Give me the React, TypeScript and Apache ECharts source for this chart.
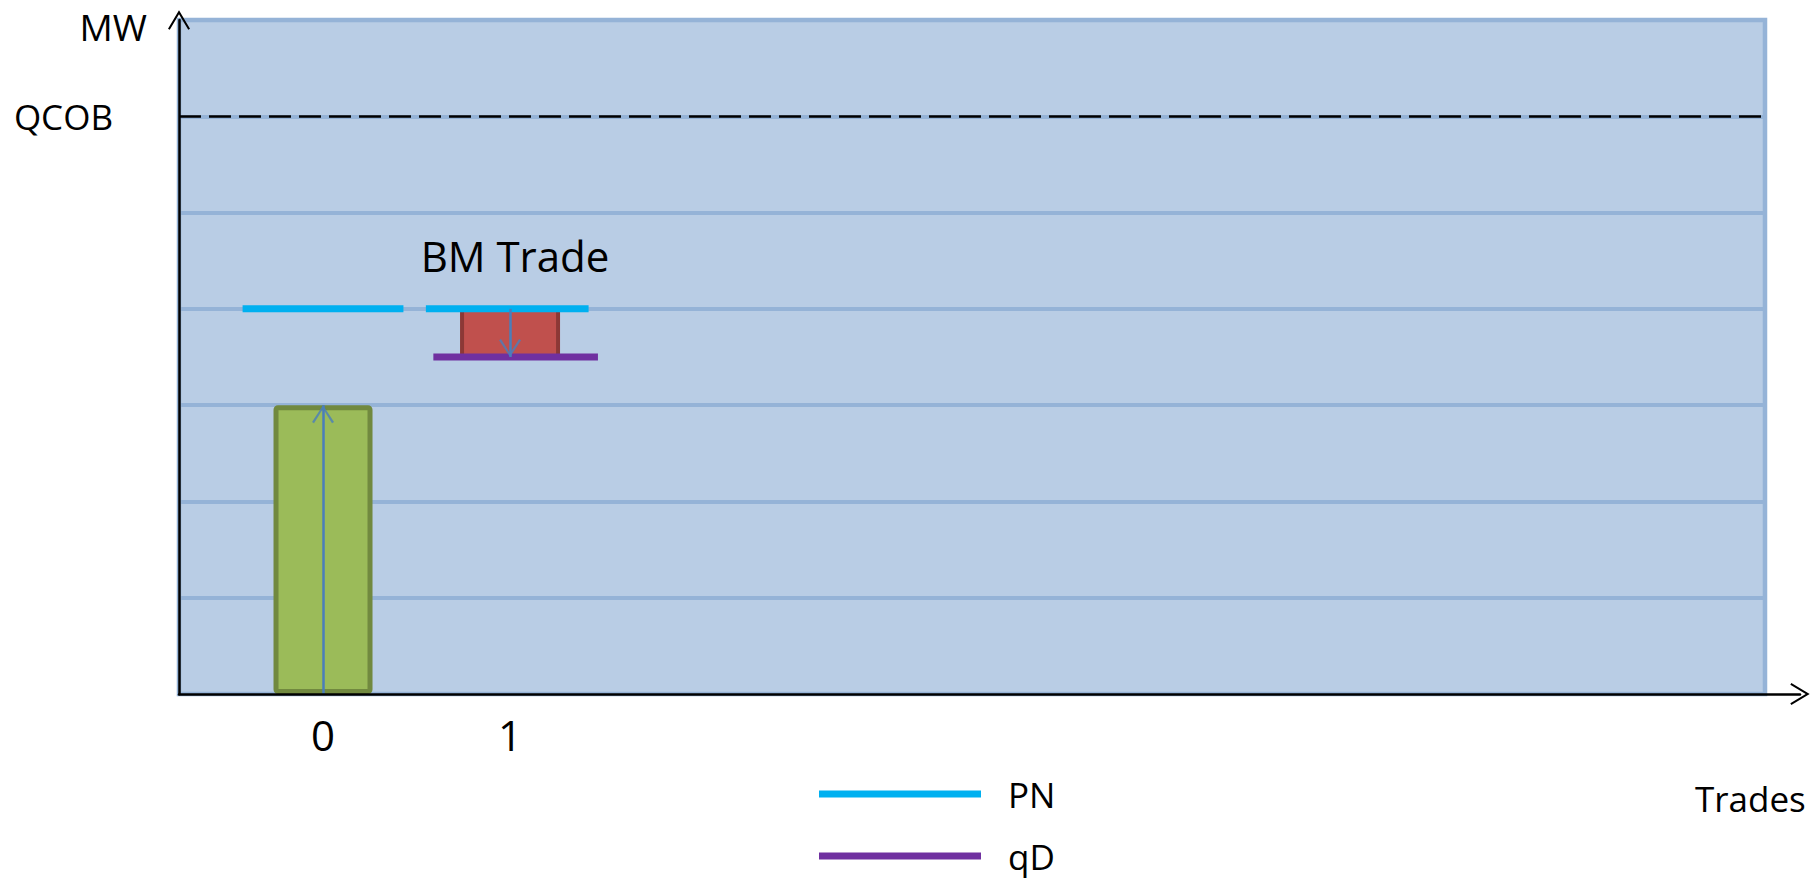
import React, { useEffect, useRef } from "react";
import * as echarts from "echarts";

// ---- data ----
const TRADES = [0, 1];
const INITIAL_POSITION = 3; // green bar at trade 0
const PN_LEVEL = 4;
const PN_SEGMENTS = [
  [-0.43, 0.43],
  [0.55, 1.42],
];
const QD_LEVEL = 3.5;
const QD_SEGMENT = [0.59, 1.47];
const QCOB_LEVEL = 6;
const Y_MIN = 0;
const Y_MAX = 7;
const X_MIN = -0.77;
const X_MAX = 7.71;

const FONT = '"Open Sans", sans-serif';
const ARROW_AXIS = "path://M0,20 L12,0 L24,20 L22.1,21.1 L12,4.3 L1.9,21.1 Z";
const CHEVRON_UP = "path://M0,18 L11,0 L22,18 L20,19.2 L11,3.9 L2,19.2 Z";
const CHEVRON_DOWN = "path://M0,1.2 L11,19.2 L22,1.2 L20,0 L11,15.3 L2,0 Z";

export default function App() {
  const ref = useRef<HTMLDivElement>(null);
  useEffect(() => {
    if (!ref.current) return;
    const chart = echarts.init(ref.current, undefined, { renderer: "svg" });
    const pnData: any[] = [];
    PN_SEGMENTS.forEach((seg, i) => {
      if (i > 0) pnData.push([seg[0] - 0.05, "-"]);
      pnData.push([seg[0], PN_LEVEL], [seg[1], PN_LEVEL]);
    });
    const option: any = {
      animation: false,
      textStyle: { fontFamily: FONT },
      grid: [
        {
          left: 179,
          right: 1812 - 1765,
          top: 20,
          bottom: 880 - 694,
          show: true,
          backgroundColor: "#B9CDE5",
          borderColor: "#95B3D7",
          borderWidth: 4.5,
        },
        { left: 179, right: 12, top: 20, bottom: 880 - 694 },
      ],
      xAxis: [
        {
          gridIndex: 0,
          type: "value",
          min: X_MIN,
          max: X_MAX,
          axisLine: { show: false },
          axisTick: { show: false },
          splitLine: { show: false },
          axisLabel: {
            customValues: TRADES,
            fontSize: 42,
            color: "#000",
            margin: 19,
            fontFamily: FONT,
          },
        },
        {
          gridIndex: 1,
          type: "value",
          min: 0,
          max: 1,
          z: 5,
          axisLine: {
            show: true,
            onZero: false,
            lineStyle: { color: "#000", width: 2.5 },
            symbol: ["none", ARROW_AXIS],
            symbolSize: [22, 22],
          },
          axisTick: { show: false },
          axisLabel: { show: false },
          splitLine: { show: false },
        },
      ],
      yAxis: [
        {
          gridIndex: 0,
          type: "value",
          min: Y_MIN,
          max: Y_MAX,
          interval: 1,
          name: "MW",
          nameLocation: "end",
          nameGap: -6,
          nameTextStyle: {
            fontSize: 37,
            color: "#000",
            align: "right",
            verticalAlign: "middle",
            padding: [0, 32, 0, 0],
            fontFamily: FONT,
          },
          axisLine: {
            show: true,
            onZero: false,
            lineStyle: { color: "#000", width: 2.5 },
            symbol: ["none", ARROW_AXIS],
            symbolSize: [22, 22],
          },
          axisTick: { show: false },
          splitLine: { show: true, lineStyle: { color: "#95B3D7", width: 4 } },
          axisLabel: {
            customValues: [QCOB_LEVEL],
            formatter: () => "QCOB",
            fontSize: 35,
            color: "#000",
            margin: 66,
            fontFamily: FONT,
          },
        },
        { gridIndex: 1, type: "value", min: 0, max: 1, show: false },
      ],
      legend: {
        data: ["PN", "qD"],
        orient: "vertical",
        left: 819,
        top: 776,
        padding: 0,
        itemWidth: 162,
        itemHeight: 7,
        itemGap: 26,
        icon: "rect",
        selectedMode: false,
        textStyle: {
          fontSize: 35,
          lineHeight: 36,
          color: "#000",
          fontFamily: FONT,
          padding: [0, 0, 0, 22],
        },
      },
      graphic: [
        {
          type: "text",
          x: 515,
          y: 255,
          style: {
            text: "BM Trade",
            font: `42px ${FONT}`,
            fill: "#000",
            textAlign: "center",
            align: "center",
            textVerticalAlign: "middle",
            verticalAlign: "middle",
          },
        },
        {
          type: "text",
          x: 1695,
          y: 798,
          style: {
            text: "Trades",
            font: `35px ${FONT}`,
            fill: "#000",
            textAlign: "left",
            align: "left",
            textVerticalAlign: "middle",
            verticalAlign: "middle",
          },
        },
      ],
      series: [
        {
          name: "Initial",
          type: "bar",
          xAxisIndex: 0,
          yAxisIndex: 0,
          barWidth: 99,
          data: [[TRADES[0], INITIAL_POSITION]],
          itemStyle: {
            color: "#9BBB59",
            borderColor: "#71893F",
            borderWidth: 5,
            borderRadius: 2,
          },
          markLine: {
            silent: true,
            symbol: ["none", "none"],
            label: { show: false },
            data: [
              {
                yAxis: QCOB_LEVEL,
                lineStyle: { color: "#000", width: 2.5, type: [22, 8] },
              },
              [
                {
                  coord: [TRADES[0], Y_MIN],
                  lineStyle: { color: "#4A7EBB", width: 2.5, type: "solid" },
                },
                { coord: [TRADES[0], INITIAL_POSITION] },
              ],
              [
                {
                  coord: [TRADES[1], PN_LEVEL],
                  lineStyle: { color: "#4A7EBB", width: 2.5, type: "solid" },
                },
                { coord: [TRADES[1], QD_LEVEL] },
              ],
            ],
          },
        },
        {
          name: "BM",
          type: "custom",
          xAxisIndex: 0,
          yAxisIndex: 0,
          data: [[TRADES[1], QD_LEVEL, PN_LEVEL]],
          encode: { x: 0, y: [1, 2] },
          renderItem: (params: any, api: any) => {
            const x = api.value(0);
            const lo = api.coord([x, api.value(1)]);
            const hi = api.coord([x, api.value(2)]);
            const w = 96;
            return {
              type: "rect",
              shape: { x: lo[0] - w / 2, y: hi[1], width: w, height: lo[1] - hi[1] },
              style: { fill: "#C0504D", stroke: "#8C3836", lineWidth: 4 },
            };
          },
        },
        {
          name: "PN",
          type: "line",
          data: pnData,
          symbol: "none",
          color: "#00B0F0",
          lineStyle: { color: "#00B0F0", width: 7 },
          connectNulls: false,
          z: 4,
        },
        {
          name: "qD",
          type: "line",
          data: [
            [QD_SEGMENT[0], QD_LEVEL],
            [QD_SEGMENT[1], QD_LEVEL],
          ],
          symbol: "none",
          color: "#7030A0",
          lineStyle: { color: "#7030A0", width: 7 },
          z: 4,
        },
        {
          name: "arrowheads",
          type: "scatter",
          z: 10,
          symbolSize: [22, 18],
          itemStyle: { color: "#4A7EBB" },
          data: [
            { value: [TRADES[0], INITIAL_POSITION], symbol: CHEVRON_UP, symbolOffset: [0, 9] },
            { value: [TRADES[1], QD_LEVEL], symbol: CHEVRON_DOWN, symbolOffset: [0, -9] },
          ],
        },
      ],
    };
    chart.setOption(option);
    return () => chart.dispose();
  }, []);
  return (
    <div
      ref={ref}
      style={{ position: "fixed", left: 0, top: 0, width: 1812, height: 880, background: "#fff" }}
    />
  );
}
